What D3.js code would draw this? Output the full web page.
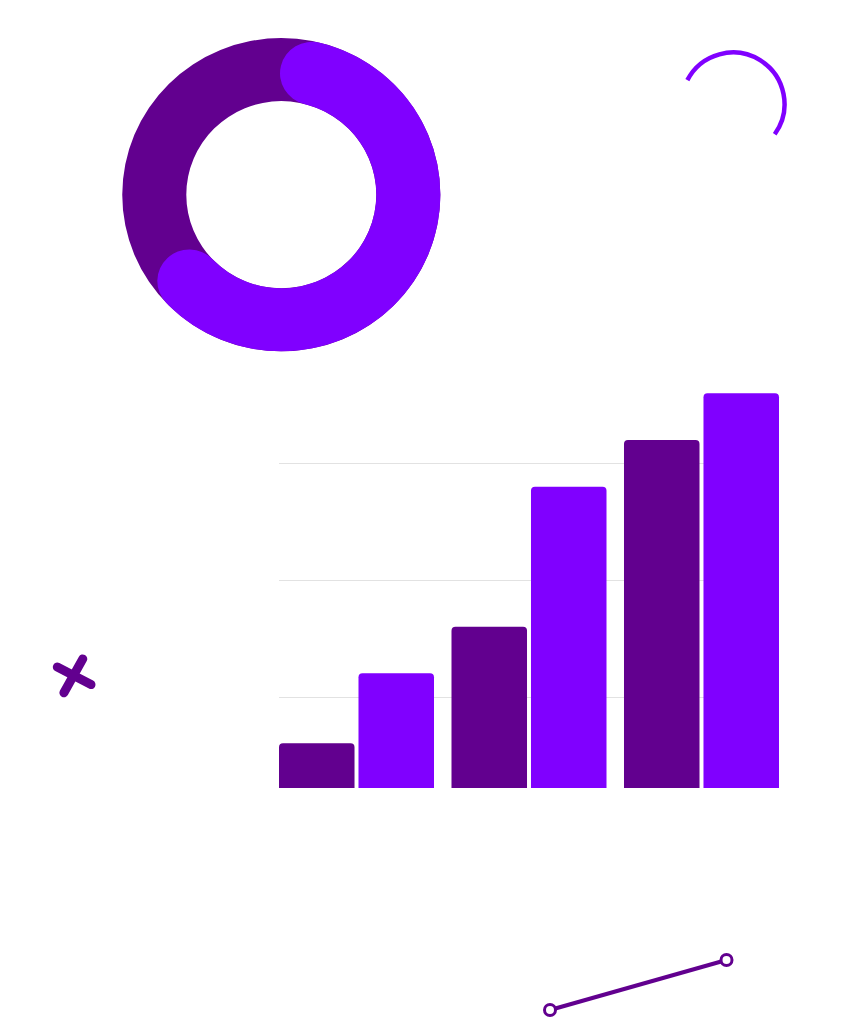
<!DOCTYPE html>
<html>
<head>
<meta charset="utf-8">
<script src="https://cdn.jsdelivr.net/npm/d3@7"></script>
<style>
  html, body { margin: 0; padding: 0; background: #fff; }
  svg { display: block; }
</style>
</head>
<body>
<svg id="svg" width="852" height="1029"></svg>
<script>
(function() {
  'use strict';

  // donut shares (dark, bright)
  var donutNames = ["dark", "bright"];
  var donutValues = [41, 59];

  // bar chart data
  var groups = ["A", "B", "C"];
  var seriesNames = ["dark", "bright"];
  var darkValues = [4, 14, 30];
  var brightValues = [10, 26, 34];
  var gridValues = [8, 18, 28];

  var DARK = "#62008f";
  var BRIGHT = "#8000ff";

  var svg = d3.select("#svg");

  // ---- donut ----
  var cx = 281.3, cy = 194.7, rOut = 159, rIn = 95;
  var rMid = (rOut + rIn) / 2, ringW = rOut - rIn;
  var startDeg = 226.4;

  var pie = d3.pie().sort(null)
    .startAngle(startDeg * Math.PI / 180)
    .endAngle((startDeg + 360) * Math.PI / 180);
  var slices = pie(donutValues);

  // the donut is a touch flatter than round in the picture
  var donut = svg.append("g")
    .attr("transform", "translate(" + [cx, cy] + ") scale(1,0.985)");

  // dark part drawn as the full ring, bright part on top with round caps
  donut.append("path")
    .attr("d", d3.arc().innerRadius(rIn).outerRadius(rOut)
      .startAngle(0).endAngle(2 * Math.PI)())
    .attr("fill", DARK);

  var b = slices[1];
  var p = d3.path();
  // d3.path angles start at 3 o'clock, pie angles at 12 o'clock
  p.arc(0, 0, rMid, b.startAngle - Math.PI / 2, b.endAngle - Math.PI / 2);
  donut.append("path")
    .attr("d", p.toString())
    .attr("fill", "none")
    .attr("stroke", BRIGHT)
    .attr("stroke-width", ringW)
    .attr("stroke-linecap", "round");

  // ---- bar chart ----
  var x0 = d3.scaleBand().domain(groups).range([279, 779]).paddingInner(0.1014);
  var x1 = d3.scaleBand().domain(seriesNames).range([0, x0.bandwidth()]).paddingInner(0.05);
  var y = d3.scaleLinear().domain([0, 34]).range([790, 393.3]);
  var baseY = 788;

  var chart = svg.append("g");

  chart.selectAll("line.grid")
    .data(gridValues)
    .enter().append("line")
    .attr("class", "grid")
    .attr("x1", x0.range()[0])
    .attr("x2", x0.range()[1])
    .attr("y1", function(d) { return Math.round(y(d)) + 0.5; })
    .attr("y2", function(d) { return Math.round(y(d)) + 0.5; })
    .attr("stroke", "#e2e2e2")
    .attr("stroke-width", 1);

  // bar with rounded top corners
  function topRounded(x, yTop, w, h, r) {
    var q = d3.path();
    q.moveTo(x, yTop + h);
    q.lineTo(x, yTop + r);
    q.arcTo(x, yTop, x + r, yTop, r);
    q.lineTo(x + w - r, yTop);
    q.arcTo(x + w, yTop, x + w, yTop + r, r);
    q.lineTo(x + w, yTop + h);
    q.closePath();
    return q.toString();
  }

  var rows = groups.map(function(g, i) {
    return [
      { group: g, series: "dark", value: darkValues[i], color: DARK },
      { group: g, series: "bright", value: brightValues[i], color: BRIGHT }
    ];
  });

  chart.selectAll("g.grp")
    .data(rows)
    .enter().append("g")
    .attr("class", "grp")
    .attr("transform", function(d) { return "translate(" + x0(d[0].group) + ",0)"; })
    .selectAll("path")
    .data(function(d) { return d; })
    .enter().append("path")
    .attr("d", function(d) {
      var top = y(d.value);
      return topRounded(x1(d.series), top, x1.bandwidth(), baseY - top, 4);
    })
    .attr("fill", function(d) { return d.color; });

  // ---- decorations ----
  // small open arc, top right
  var deco = svg.append("g");
  var a = d3.path();
  a.arc(733, 104, 51.5, (-62.4 - 90) * Math.PI / 180, (125.9 - 90) * Math.PI / 180);
  deco.append("path")
    .attr("d", a.toString())
    .attr("fill", "none")
    .attr("stroke", BRIGHT)
    .attr("stroke-width", 4.5);

  // cross
  deco.selectAll("line.cross")
    .data([[57.3, 667.1, 91, 684.6], [82.8, 658.9, 63.9, 692.8]])
    .enter().append("line")
    .attr("class", "cross")
    .attr("x1", function(d) { return d[0]; })
    .attr("y1", function(d) { return d[1]; })
    .attr("x2", function(d) { return d[2]; })
    .attr("y2", function(d) { return d[3]; })
    .attr("stroke", DARK)
    .attr("stroke-width", 9)
    .attr("stroke-linecap", "round");

  // connector with open end points
  var ends = [[550, 1010], [726.5, 960]];
  deco.append("line")
    .attr("x1", ends[0][0]).attr("y1", ends[0][1])
    .attr("x2", ends[1][0]).attr("y2", ends[1][1])
    .attr("stroke", DARK)
    .attr("stroke-width", 4);
  deco.selectAll("circle")
    .data(ends)
    .enter().append("circle")
    .attr("cx", function(d) { return d[0]; })
    .attr("cy", function(d) { return d[1]; })
    .attr("r", 5.5)
    .attr("fill", "#fff")
    .attr("stroke", DARK)
    .attr("stroke-width", 3);
}());
</script>
</body>
</html>
